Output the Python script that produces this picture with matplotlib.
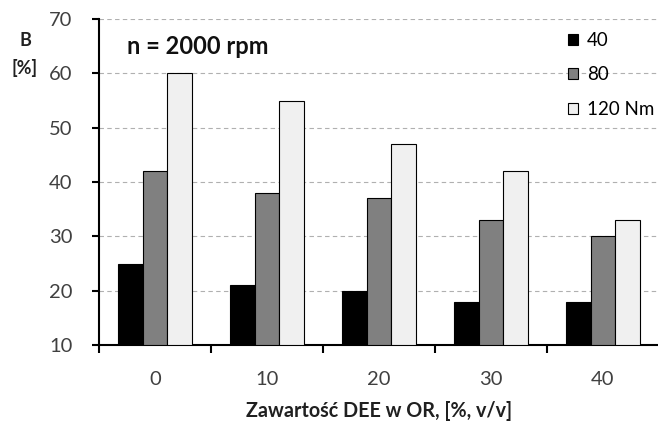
import numpy as np
import matplotlib.pyplot as plt
from matplotlib.patches import Patch

plt.rcParams['font.family'] = ['Lato', 'DejaVu Sans']

# dane
dee = ['0', '10', '20', '30', '40']
b_40 = [25, 21, 20, 18, 18]
b_80 = [42, 38, 37, 33, 30]
b_120 = [60, 55, 47, 42, 33]
series_labels = ['40', '80', '120 Nm']
colors = ['#000000', '#808080', '#f0f0f0']

fig = plt.figure(figsize=(6.58, 4.26), dpi=100)
ax = fig.add_axes([0.1505, 0.190, 0.851, 0.7653])

x = np.arange(len(dee))
w = 0.22
for k, (vals, c) in enumerate(zip([b_40, b_80, b_120], colors)):
    ax.bar(x + (k - 1) * w, np.array(vals) - 10, bottom=10, width=w,
           color=c, edgecolor='black', linewidth=0.8, zorder=3)

ax.set_ylim(10, 70)
ax.set_xlim(-0.5, 4.5)
ax.set_yticks(range(10, 71, 10))
ax.yaxis.grid(True, linestyle=(0, (4, 3)), color='#b0b0b0', linewidth=0.8, zorder=0)

ax.set_xticks(np.arange(-0.5, 4.0, 1.0))
ax.set_xticklabels([])
ax.set_xticks(x, minor=True)
ax.set_xticklabels(dee, minor=True)
ax.tick_params(axis='x', which='major', direction='out', length=6, width=1.5)
ax.tick_params(axis='x', which='minor', length=0, pad=19, labelsize=14.5, labelcolor='#404040')
ax.tick_params(axis='y', direction='out', length=5, width=1.5, labelsize=14.5,
               pad=14, labelcolor='#404040')

for s in ['top', 'right']:
    ax.spines[s].set_visible(False)
ax.spines['left'].set_linewidth(1.5)
ax.spines['bottom'].set_linewidth(1.5)

fig.text(379 / 658, 1 - 411 / 426, 'Zawartość DEE w OR, [%, v/v]', fontsize=14.2,
         fontweight='bold', ha='center', va='center', color='#202020')
fig.text(25 / 658, 1 - 40 / 426, 'B', fontsize=13, fontweight='bold', ha='center',
         va='center', color='#202020')
fig.text(25 / 658, 1 - 68 / 426, '[%]', fontsize=13, fontweight='bold', ha='center',
         va='center', color='#202020')
fig.text(127 / 658, 1 - 47 / 426, 'n = 2000 rpm', fontsize=17,
         fontweight='bold', va='center', ha='left', color='#101010')

handles = [Patch(facecolor=c, edgecolor='black', linewidth=0.8) for c in colors]
leg = fig.legend(handles, series_labels, loc='upper left', bbox_to_anchor=(568 / 658, 1 - 32 / 426),
                 frameon=False, fontsize=13.5, handlelength=0.55, handleheight=0.55,
                 handletextpad=0.45, labelspacing=0.93, borderpad=0, borderaxespad=0)

fig.savefig('out.png', dpi=100)
